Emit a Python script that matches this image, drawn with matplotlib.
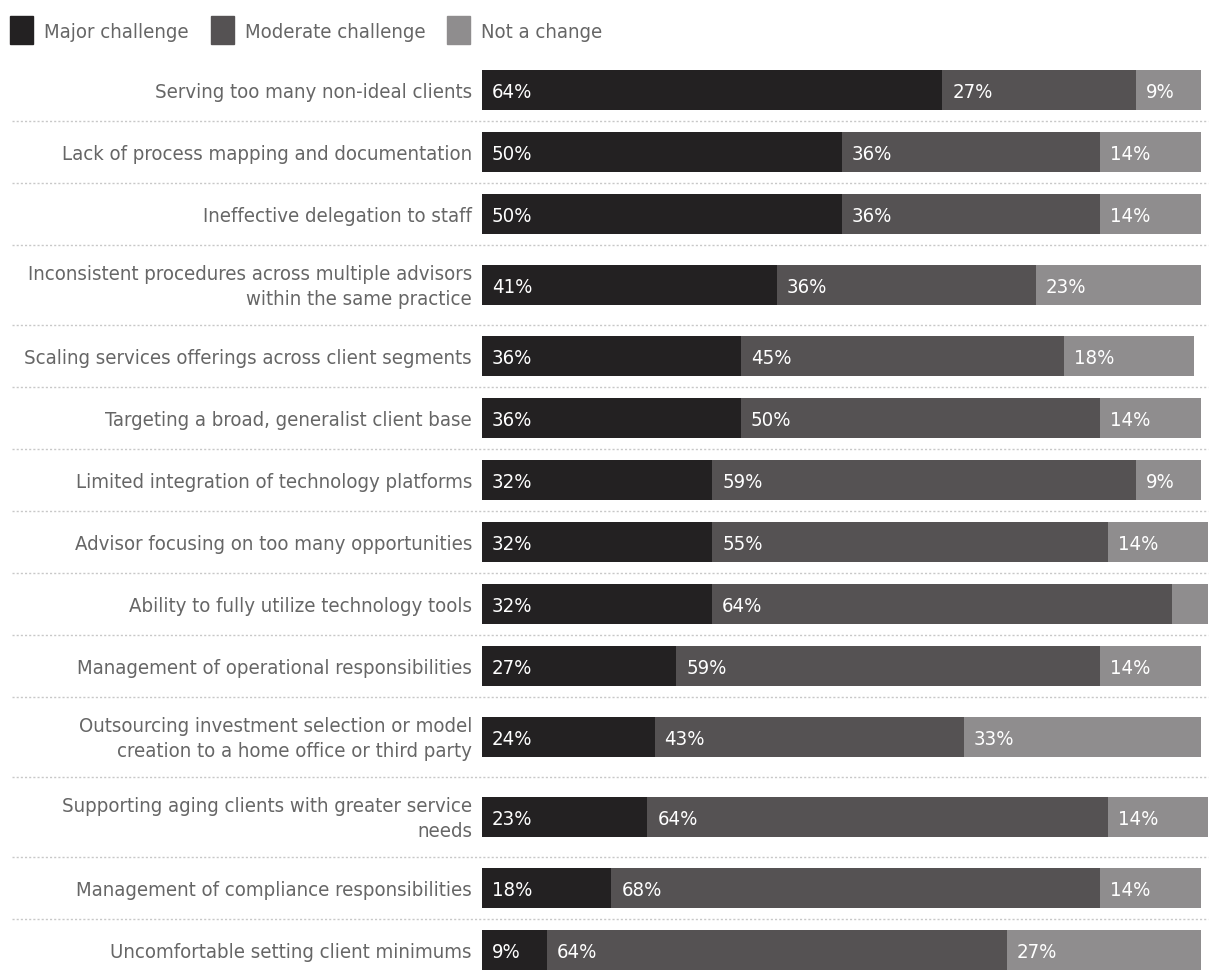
import matplotlib
matplotlib.use("Agg")
import matplotlib.pyplot as plt
import matplotlib.transforms as mtransforms
from matplotlib.patches import Rectangle

categories = [
    "Serving too many non-ideal clients",
    "Lack of process mapping and documentation",
    "Ineffective delegation to staff",
    "Inconsistent procedures across multiple advisors\nwithin the same practice",
    "Scaling services offerings across client segments",
    "Targeting a broad, generalist client base",
    "Limited integration of technology platforms",
    "Advisor focusing on too many opportunities",
    "Ability to fully utilize technology tools",
    "Management of operational responsibilities",
    "Outsourcing investment selection or model\ncreation to a home office or third party",
    "Supporting aging clients with greater service\nneeds",
    "Management of compliance responsibilities",
    "Uncomfortable setting client minimums",
]
major = [64, 50, 50, 41, 36, 36, 32, 32, 32, 27, 24, 23, 18, 9]
moderate = [27, 36, 36, 36, 45, 50, 59, 55, 64, 59, 43, 64, 68, 64]
not_change = [9, 14, 14, 23, 18, 14, 9, 14, 5, 14, 33, 14, 14, 27]
series_names = ["Major challenge", "Moderate challenge", "Not a change"]
colors = ["#232122", "#555253", "#8f8d8e"]

FONT = dict(family="DejaVu Sans", stretch="condensed")
TEXT_COLOR = "#666666"
FS = 14.6

W, H = 1220, 980
fig = plt.figure(figsize=(W / 100, H / 100), dpi=100)
ax = fig.add_axes([482 / W, 0, 719 / W, 1])
ax.set_xlim(0, 100)
ax.set_ylim(H, 0)
ax.axis("off")

# row layout: taller rows for two-line labels
y_top = 59
centers, seps = [], []
for cat in categories:
    h = 80 if "\n" in cat else 62
    centers.append(y_top + h / 2)
    y_top += h
    seps.append(y_top)

sep_tr = mtransforms.blended_transform_factory(fig.transFigure, ax.transData)
for s in seps[:-1]:
    ax.plot([12 / W, 1208 / W], [s, s], transform=sep_tr, color="#c8c8c8",
            lw=1, ls=(0, (1.5, 1.5)), clip_on=False)

label_tr = mtransforms.offset_copy(ax.transData, fig=fig, x=10 * 0.72, y=0, units="points")
cat_tr = mtransforms.offset_copy(ax.transData, fig=fig, x=-10 * 0.72, y=0, units="points")

left = [0] * len(categories)
for vals, col in zip([major, moderate, not_change], colors):
    ax.barh(centers, vals, left=left, height=40, color=col, clip_on=False)
    for c, v, l in zip(centers, vals, left):
        if v >= 7:
            ax.text(l, c + 2, f"{v}%", transform=label_tr, color="white",
                    fontsize=FS, va="center", ha="left", **FONT)
    left = [a + b for a, b in zip(left, vals)]

for c, cat in zip(centers, categories):
    ax.text(0, c + 2, cat, transform=cat_tr, ha="right", va="center", color=TEXT_COLOR,
            fontsize=FS, linespacing=1.38, multialignment="right", **FONT)

# legend
x = 10
for name, col in zip(series_names, colors):
    fig.add_artist(Rectangle((x / W, 1 - 44 / H), 23 / W, 28 / H,
                             transform=fig.transFigure, color=col))
    t = fig.text((x + 34) / W, 1 - 32 / H, name, color=TEXT_COLOR, fontsize=FS,
                 va="center", ha="left", **FONT)
    fig.canvas.draw()
    bb = t.get_window_extent()
    x = bb.x1 + 22

fig.savefig("out.png", dpi=100)
